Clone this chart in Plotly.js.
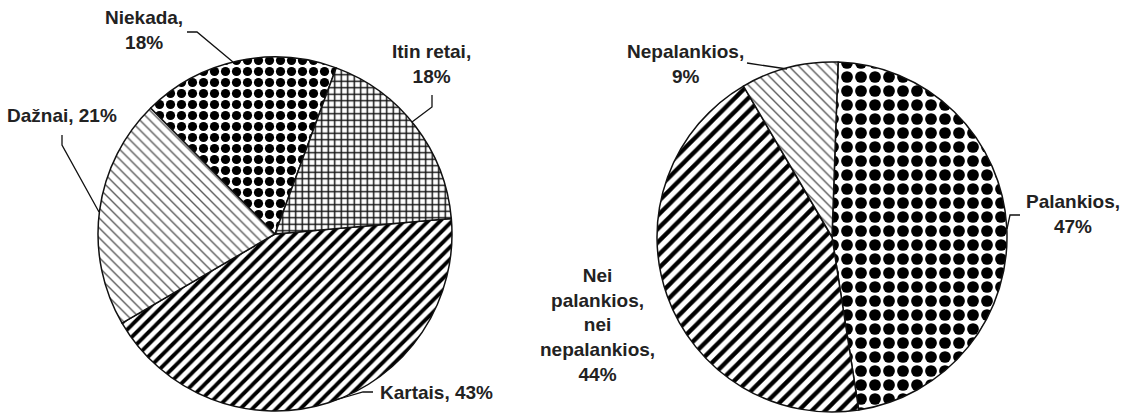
<!DOCTYPE html>
<html>
<head>
<meta charset="utf-8">
<script src="https://cdn.plot.ly/plotly-3.0.1.min.js"></script>
<style>
  html, body { margin: 0; padding: 0; background: #ffffff; }
  #chart { width: 1125px; height: 418px; }
</style>
</head>
<body>
<div id="chart"></div>
<script>
// ---- Data ----
const leftLabels = ['Kartais', 'Dažnai', 'Niekada', 'Itin retai'];
const leftValues = [43, 21, 18, 18];
const rightLabels = ['Palankios', 'Nei palankios, nei nepalankios', 'Nepalankios'];
const rightValues = [47, 44, 9];

// how each data label is wrapped in the picture
const leftLabelLines = [['Kartais'], ['Dažnai'], ['Niekada'], ['Itin retai']];
const leftPctOnNewLine = [false, false, true, true];
const rightLabelLines = [['Palankios'], ['Nei', 'palankios,', 'nei', 'nepalankios'], ['Nepalankios']];
const rightPctOnNewLine = [true, true, true];

// ---- Styles ----
const W = 1125, H = 418;
const textColor = '#222222';
const fontFam = 'Arial, "Liberation Sans", sans-serif';

function px(x) { return x / W; }
function py(y) { return 1 - y / H; }

function labelText(lines, value, pctNewLine) {
  let t = lines.join('<br>');
  if (!t.endsWith(',')) t += ',';
  return t + (pctNewLine ? '<br>' : ' ') + value + '%';
}

const leftPie = {
  type: 'pie',
  labels: leftLabels,
  values: leftValues,
  sort: false,
  direction: 'clockwise',
  rotation: 85,
  textinfo: 'none',
  hoverinfo: 'none',
  showlegend: false,
  domain: { x: [px(98), px(452)], y: [py(411), py(57)] },
  marker: {
    colors: ['#ffffff', '#ffffff', '#ffffff', '#ffffff'],
    line: { color: '#111111', width: 1.5 },
    pattern: {
      shape: ['/', '\\', '.', '+'],
      fgcolor: ['#000000', '#5a5a5a', '#000000', '#111111'],
      bgcolor: ['#ffffff', '#ffffff', '#ffffff', '#ffffff'],
      size: [8.5, 7, 11, 6.5],
      solidity: [0.45, 0.2, 0.55, 0.4],
      fillmode: 'replace'
    }
  }
};

const rightPie = {
  type: 'pie',
  labels: rightLabels,
  values: rightValues,
  sort: false,
  direction: 'clockwise',
  rotation: 2,
  textinfo: 'none',
  hoverinfo: 'none',
  showlegend: false,
  domain: { x: [px(657), px(1007)], y: [py(412), py(62)] },
  marker: {
    colors: ['#ffffff', '#ffffff', '#ffffff'],
    line: { color: '#111111', width: 1.5 },
    pattern: {
      shape: ['.', '/', '\\'],
      fgcolor: ['#000000', '#000000', '#5a5a5a'],
      bgcolor: ['#ffffff', '#ffffff', '#ffffff'],
      size: [14, 9.5, 7],
      solidity: [0.55, 0.45, 0.2],
      fillmode: 'replace'
    }
  }
};

// label placement (pixel centres) and leader polylines
const leftLabelPos = [[436, 392], [62, 115.5], [144, 30], [431, 64]];
const rightLabelPos = [[1073, 213.5], [597, 324.5], [685, 64]];
const leaders = [
  [[373, 392], [363, 392], [332, 401]],
  [[62, 135], [62, 145], [99, 212]],
  [[187, 32], [197, 32], [233, 62]],
  [[432, 95], [432, 107], [412, 122]],
  [[1020, 215], [1010, 215], [1007, 229]],
  [[747, 63], [787, 69]]
];

const annotations = [];
leftLabels.forEach((l, i) => {
  annotations.push({
    xref: 'paper', yref: 'paper', x: px(leftLabelPos[i][0]), y: py(leftLabelPos[i][1]),
    xanchor: 'center', yanchor: 'middle', showarrow: false, align: 'center',
    text: labelText(leftLabelLines[i], leftValues[i], leftPctOnNewLine[i]),
    font: { family: fontFam, size: 19, color: textColor, weight: 700 }
  });
});
rightLabels.forEach((l, i) => {
  annotations.push({
    xref: 'paper', yref: 'paper', x: px(rightLabelPos[i][0]), y: py(rightLabelPos[i][1]),
    xanchor: 'center', yanchor: 'middle', showarrow: false, align: 'center',
    text: labelText(rightLabelLines[i], rightValues[i], rightPctOnNewLine[i]),
    font: { family: fontFam, size: 19, color: textColor, weight: 700 }
  });
});

const shapes = leaders.map(pts => ({
  type: 'path', xref: 'paper', yref: 'paper',
  path: pts.map((p, k) => (k === 0 ? 'M' : 'L') + px(p[0]).toFixed(5) + ',' + py(p[1]).toFixed(5)).join(' '),
  line: { color: '#111111', width: 1.3 }
}));

const layout = {
  width: W, height: H,
  margin: { l: 0, r: 0, t: 0, b: 0 },
  paper_bgcolor: '#ffffff',
  plot_bgcolor: '#ffffff',
  showlegend: false,
  annotations: annotations,
  shapes: shapes
};

Plotly.newPlot('chart', [leftPie, rightPie], layout, { staticPlot: true, displayModeBar: false });
</script>
</body>
</html>
